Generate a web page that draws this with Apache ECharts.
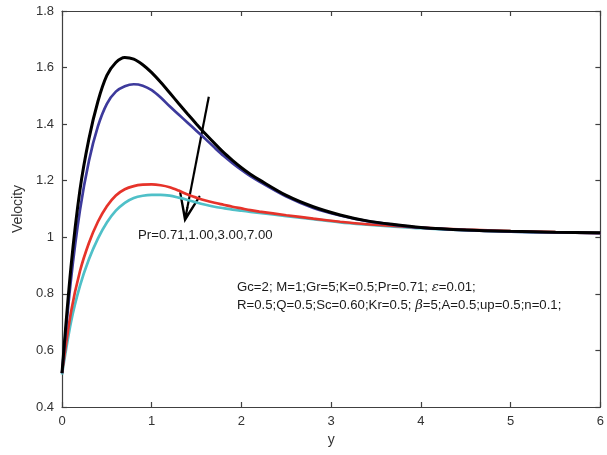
<!DOCTYPE html>
<html>
<head>
<meta charset="utf-8">
<script src="https://cdn.jsdelivr.net/npm/echarts@6/dist/echarts.min.js"></script>
<style>html,body{margin:0;padding:0;background:#fff}#c{width:607px;height:455px}</style>
</head>
<body>
<div id="c"></div>
<script>
var yPos     = [0,     0.1,   0.2,   0.3,   0.4,   0.5,   0.6,   0.7,   0.8,   0.9,   1.0,   1.1,   1.2,   1.3,   1.4,   1.5,   1.6,   1.7,   1.8,   1.9,   2.0,   2.1,   2.2,   2.5,   2.8,   3.1,   3.4,   3.7,   4.0,   4.5,   5.0,   5.5,   6.0];
var velPr071 = [0.52,  0.895, 1.167, 1.348, 1.48,  1.572, 1.618, 1.636, 1.630, 1.610, 1.582, 1.548, 1.511, 1.473, 1.436, 1.400, 1.365, 1.332, 1.300, 1.272, 1.246, 1.223, 1.203, 1.148, 1.108, 1.079, 1.058, 1.045, 1.035, 1.026, 1.021, 1.018, 1.016];
var velPr100 = [0.52,  0.85,  1.095, 1.27,  1.392, 1.472, 1.515, 1.534, 1.541, 1.536, 1.520, 1.494, 1.463, 1.434, 1.405, 1.376, 1.347, 1.317, 1.288, 1.262, 1.238, 1.216, 1.197, 1.144, 1.104, 1.077, 1.057, 1.044, 1.034, 1.025, 1.020, 1.017, 1.015];
var velPr300 = [0.52,  0.735, 0.88,  0.98,  1.055, 1.110, 1.148, 1.170, 1.181, 1.186, 1.187, 1.184, 1.177, 1.165, 1.151, 1.140, 1.130, 1.122, 1.115, 1.108, 1.102, 1.096, 1.091, 1.078, 1.066, 1.055, 1.046, 1.040, 1.034, 1.027, 1.022, 1.018, 1.015];
var velPr700 = [0.515, 0.70,  0.828, 0.922, 0.995, 1.052, 1.094, 1.122, 1.139, 1.147, 1.150, 1.150, 1.147, 1.140, 1.132, 1.123, 1.115, 1.108, 1.103, 1.098, 1.094, 1.090, 1.086, 1.075, 1.064, 1.053, 1.045, 1.038, 1.032, 1.025, 1.020, 1.017, 1.015];
var arrowFrom = [1.636, 1.497];
var arrowTo = [1.396, 1.103];
var seriesNames = ['Pr=0.71', 'Pr=1.00', 'Pr=3.00', 'Pr=7.00'];
var seriesColors = ['#000000', '#3d3a9c', '#e6332a', '#4fc0c8'];
var seriesValues = [velPr071, velPr100, velPr300, velPr700];

var FONT = '"Liberation Sans", Arial, sans-serif';
function pairs(xs, ys) { return xs.map(function (x, i) { return [x, ys[i]]; }); }

var series = seriesValues.map(function (vals, i) {
  return {
    name: seriesNames[i], type: 'line', smooth: 0.3, showSymbol: false, silent: true,
    xAxisIndex: 0, yAxisIndex: 0,
    data: pairs(yPos, vals),
    lineStyle: { color: seriesColors[i], width: i === 0 ? 3 : 2.7 },
    z: 10 - i
  };
});
series[0].markLine = {
  silent: true,
  symbol: ['none', 'path://M8,0 L16,19.2 L14.6,20 L8.8,6.5 L8.8,10.6 L7.2,10.6 L7.2,6.5 L1.4,20 L0,19.2 Z'],
  symbolSize: [22, 30],
  itemStyle: { color: '#000' },
  lineStyle: { color: '#000', width: 2.2, type: 'solid' },
  label: { show: false },
  data: [[{ coord: arrowFrom }, { coord: arrowTo }]]
};

var axisCommon = {
  type: 'value', min: 0, max: 6, interval: 1,
  axisLine: { show: true, onZero: false, lineStyle: { color: '#404040', width: 1.2 } },
  axisTick: { show: true, inside: true, length: 5, lineStyle: { color: '#404040', width: 1.2 } },
  splitLine: { show: false }
};
var yCommon = {
  type: 'value', min: 0.4, max: 1.8, interval: 0.2,
  axisLine: { show: true, onZero: false, lineStyle: { color: '#404040', width: 1.2 } },
  axisTick: { show: true, inside: true, length: 5, lineStyle: { color: '#404040', width: 1.2 } },
  splitLine: { show: false }
};

var option = {
  animation: false,
  backgroundColor: '#ffffff',
  grid: { left: 62, right: 4, top: 11, bottom: 48, containLabel: false },
  xAxis: [
    Object.assign({}, axisCommon, {
      position: 'bottom', name: 'y', nameLocation: 'middle', nameGap: 19,
      nameTextStyle: { fontFamily: FONT, fontSize: 14, color: '#333' },
      axisLabel: { margin: 8, fontFamily: FONT, fontSize: 13, color: '#333' }
    }),
    Object.assign({}, axisCommon, { position: 'top', axisLabel: { show: false } })
  ],
  yAxis: [
    Object.assign({}, yCommon, {
      position: 'left', name: 'Velocity', nameLocation: 'middle', nameGap: 23,
      nameTextStyle: { fontFamily: FONT, fontSize: 14, color: '#333' },
      axisLabel: { margin: 8, fontFamily: FONT, fontSize: 13, color: '#333',
        formatter: function (v) { return (Math.abs(v - 1) < 1e-9) ? '1' : v.toFixed(1); } }
    }),
    Object.assign({}, yCommon, { position: 'right', axisLabel: { show: false } })
  ],
  graphic: [
    { type: 'text', left: 138, top: 229, style: { text: 'Pr=0.71,1.00,3.00,7.00', font: '13.2px ' + FONT, fill: '#1a1a1a' } },
    { type: 'text', left: 237, top: 281, style: {
        text: '{a|Gc=2; M=1;Gr=5;K=0.5;Pr=0.71; }{i|\u03b5}{a|=0.01;}\n{a|R=0.5;Q=0.5;Sc=0.60;Kr=0.5; }{i|\u03b2}{a|=5;A=0.5;up=0.5;n=0.1;}',
        rich: {
          a: { font: '13.2px ' + FONT, fill: '#1a1a1a', lineHeight: 18 },
          i: { font: 'italic 13.2px "DejaVu Serif", serif', fill: '#1a1a1a', lineHeight: 18 }
        }
      } }
  ],
  series: series
};

var chart = echarts.init(document.getElementById('c'), null, { renderer: 'canvas' });
chart.setOption(option);
</script>
</body>
</html>
